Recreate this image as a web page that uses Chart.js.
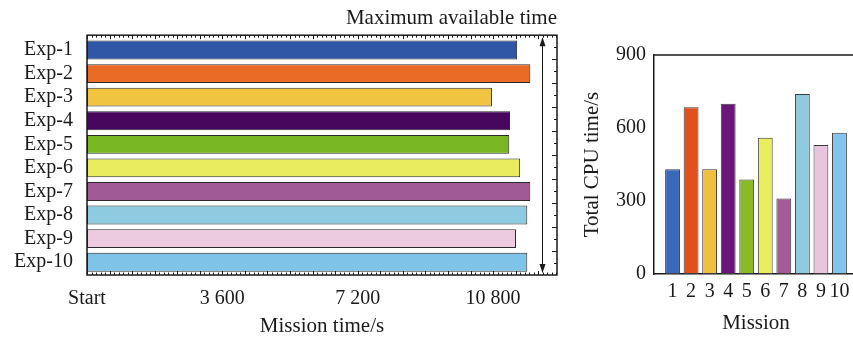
<!DOCTYPE html>
<html lang="en">
  <head>
    <meta charset="UTF-8">
    <title>Mission time and CPU time</title>
    <style>
      html, body { margin: 0; padding: 0; background: #fff; overflow: hidden; }
      body { width: 853px; height: 341px; position: relative; }
      #timeChart { position: absolute; left: 0; top: 0; }
      #cpuChart { position: absolute; left: 570px; top: 0; }
    </style>
  </head>
  <body>
    <canvas id="timeChart" width="580" height="341"></canvas>
    <canvas id="cpuChart" width="300" height="341"></canvas>

    <script src="https://cdn.jsdelivr.net/npm/chart.js"></script>
    <script>
      // left panel: mission finish time per experiment (all start at 0)
      const expLabels = ["Exp-1", "Exp-2", "Exp-3", "Exp-4", "Exp-5", "Exp-6", "Exp-7", "Exp-8", "Exp-9", "Exp-10"];
      const missionEnd = [11440, 11790, 10770, 11250, 11230, 11520, 11790, 11710, 11410, 11710];
      const timeTicks = [0, 3600, 7200, 10800];
      const timeTickLabels = ["Start", "3 600", "7 200", "10 800"];
      const maxAvailable = 12100;
      const timeColors = ["#2f57a6", "#ea6b25", "#f0c340", "#47075c", "#79b824", "#e8ec5e", "#a05b96", "#8ecbe0", "#eccbdf", "#7fc4e8"];

      // right panel: total CPU time per mission
      const missionIds = [1, 2, 3, 4, 5, 6, 7, 8, 9, 10];
      const cpuTime = [430, 685, 430, 700, 388, 560, 310, 740, 530, 580];
      const cpuTicks = [0, 300, 600, 900];
      const cpuColors = ["#3a69bb", "#e2501d", "#f0bf3f", "#6a1578", "#8aba27", "#e9ee5f", "#a45b98", "#8fc9de", "#e8c5de", "#82c4ee"];

      const serif = "'Liberation Serif', 'Times New Roman', serif";
      const ink = "#1a1a1a";
      Chart.defaults.font.family = serif;
      Chart.defaults.color = ink;
      Chart.defaults.animation = false;

      // frame, small ticks and the max-time arrow of the left panel
      const timeDecor = {
        id: "timeDecor",
        afterDatasetsDraw(chart) {
          const c = chart.ctx, a = chart.chartArea, xs = chart.scales.x;
          const top = a.top - 3, bottom = a.bottom + 1;
          c.save();
          c.strokeStyle = ink;
          c.lineWidth = 1.5;
          c.strokeRect(a.left, top, a.right - a.left, bottom - top);
          c.lineWidth = 1;
          c.beginPath();
          for (let v = 0; v <= xs.max; v += 120) {
            const px = Math.round(xs.getPixelForValue(v)) + 0.5;
            const len = v % 600 === 0 ? 4 : 2.5;
            c.moveTo(px, top); c.lineTo(px, top + len);
            c.moveTo(px, bottom); c.lineTo(px, bottom - len);
          }
          const step = (bottom - top) / 20;
          for (let i = 1; i < 20; i++) {
            const py = Math.round(top + i * step) + 0.5;
            const len = i % 2 === 0 ? 5 : 3;
            c.moveTo(a.right, py); c.lineTo(a.right - len, py);
          }
          c.stroke();
          // double arrow for maximum available time
          const ax = Math.round(xs.getPixelForValue(maxAvailable)) + 0.5;
          c.beginPath();
          c.moveTo(ax, top + 3); c.lineTo(ax, bottom - 3);
          c.stroke();
          c.fillStyle = ink;
          c.beginPath();
          c.moveTo(ax, top + 2); c.lineTo(ax - 3, top + 11); c.lineTo(ax + 3, top + 11); c.closePath();
          c.moveTo(ax, bottom - 2); c.lineTo(ax - 3, bottom - 11); c.lineTo(ax + 3, bottom - 11); c.closePath();
          c.fill();
          c.restore();
        }
      };

      new Chart(document.getElementById("timeChart"), {
        type: "bar",
        data: {
          labels: expLabels,
          datasets: [{
            data: missionEnd,
            backgroundColor: timeColors,
            borderColor: "#2a2a2a",
            borderWidth: 1,
            borderSkipped: false,
            barPercentage: 0.8,
            categoryPercentage: 1
          }]
        },
        options: {
          indexAxis: "y",
          responsive: false,
          layout: { padding: { top: 0, right: 23, bottom: 0, left: 0 } },
          plugins: {
            legend: { display: false },
            tooltip: { enabled: false },
            title: {
              display: true,
              text: "Maximum available time",
              align: "end",
              color: ink,
              font: { size: 21, weight: "normal" },
              padding: { top: 6, bottom: 7 }
            }
          },
          scales: {
            x: {
              type: "linear",
              min: 0,
              max: 12500,
              afterBuildTicks: (s) => { s.ticks = timeTicks.map((v) => ({ value: v })); },
              afterFit: (s) => { s.height = 67; },
              ticks: {
                callback: (v) => timeTickLabels[timeTicks.indexOf(v)],
                font: { size: 20 },
                color: ink,
                padding: 13,
                maxRotation: 0,
                autoSkip: false
              },
              grid: { display: false, drawTicks: false },
              border: { display: false },
              title: {
                display: true,
                text: "Mission time/s",
                font: { size: 21 },
                color: ink,
                padding: { top: 0, bottom: 2 }
              }
            },
            y: {
              afterFit: (s) => { s.width = 87; },
              ticks: { font: { size: 20 }, color: ink, padding: 14, autoSkip: false },
              grid: { display: false, drawTicks: false },
              border: { display: false }
            }
          }
        },
        plugins: [timeDecor]
      });

      // top border line of the right panel
      const cpuFrame = {
        id: "cpuFrame",
        afterDatasetsDraw(chart) {
          const c = chart.ctx, a = chart.chartArea;
          c.save();
          c.strokeStyle = ink;
          c.lineWidth = 1.5;
          c.beginPath();
          c.moveTo(a.left, a.top); c.lineTo(a.right, a.top);
          c.stroke();
          c.restore();
        }
      };

      new Chart(document.getElementById("cpuChart"), {
        type: "bar",
        data: {
          datasets: [{
            data: missionIds.map((m, i) => ({ x: m, y: cpuTime[i] })),
            backgroundColor: cpuColors,
            borderColor: "#3a3a3a",
            borderWidth: 1,
            borderSkipped: false,
            barPercentage: 0.8,
            categoryPercentage: 1
          }]
        },
        options: {
          responsive: false,
          layout: { padding: { top: 55, right: 12, bottom: 0, left: 0 } },
          plugins: { legend: { display: false }, tooltip: { enabled: false } },
          scales: {
            x: {
              type: "linear",
              min: 0,
              max: 11,
              offset: false,
              afterBuildTicks: (s) => { s.ticks = missionIds.map((v) => ({ value: v })); },
              afterFit: (s) => { s.height = 67; },
              ticks: { font: { size: 20 }, color: ink, padding: 6, maxRotation: 0, autoSkip: false },
              grid: { display: false, drawTicks: false },
              border: { display: true, color: ink, width: 1.5 },
              title: {
                display: true,
                text: "Mission",
                font: { size: 21 },
                color: ink,
                padding: { top: 0, bottom: 5 }
              }
            },
            y: {
              min: 0,
              max: 900,
              afterBuildTicks: (s) => { s.ticks = cpuTicks.map((v) => ({ value: v })); },
              afterFit: (s) => { s.width = 84; },
              ticks: { font: { size: 20 }, color: ink, padding: 8 },
              grid: { display: false, drawTicks: false },
              border: { display: true, color: ink, width: 1.5 },
              title: {
                display: true,
                text: "Total CPU time/s",
                font: { size: 21 },
                color: ink,
                padding: { top: 10, bottom: 0 }
              }
            }
          }
        },
        plugins: [cpuFrame]
      });
    </script>
  </body>
</html>
